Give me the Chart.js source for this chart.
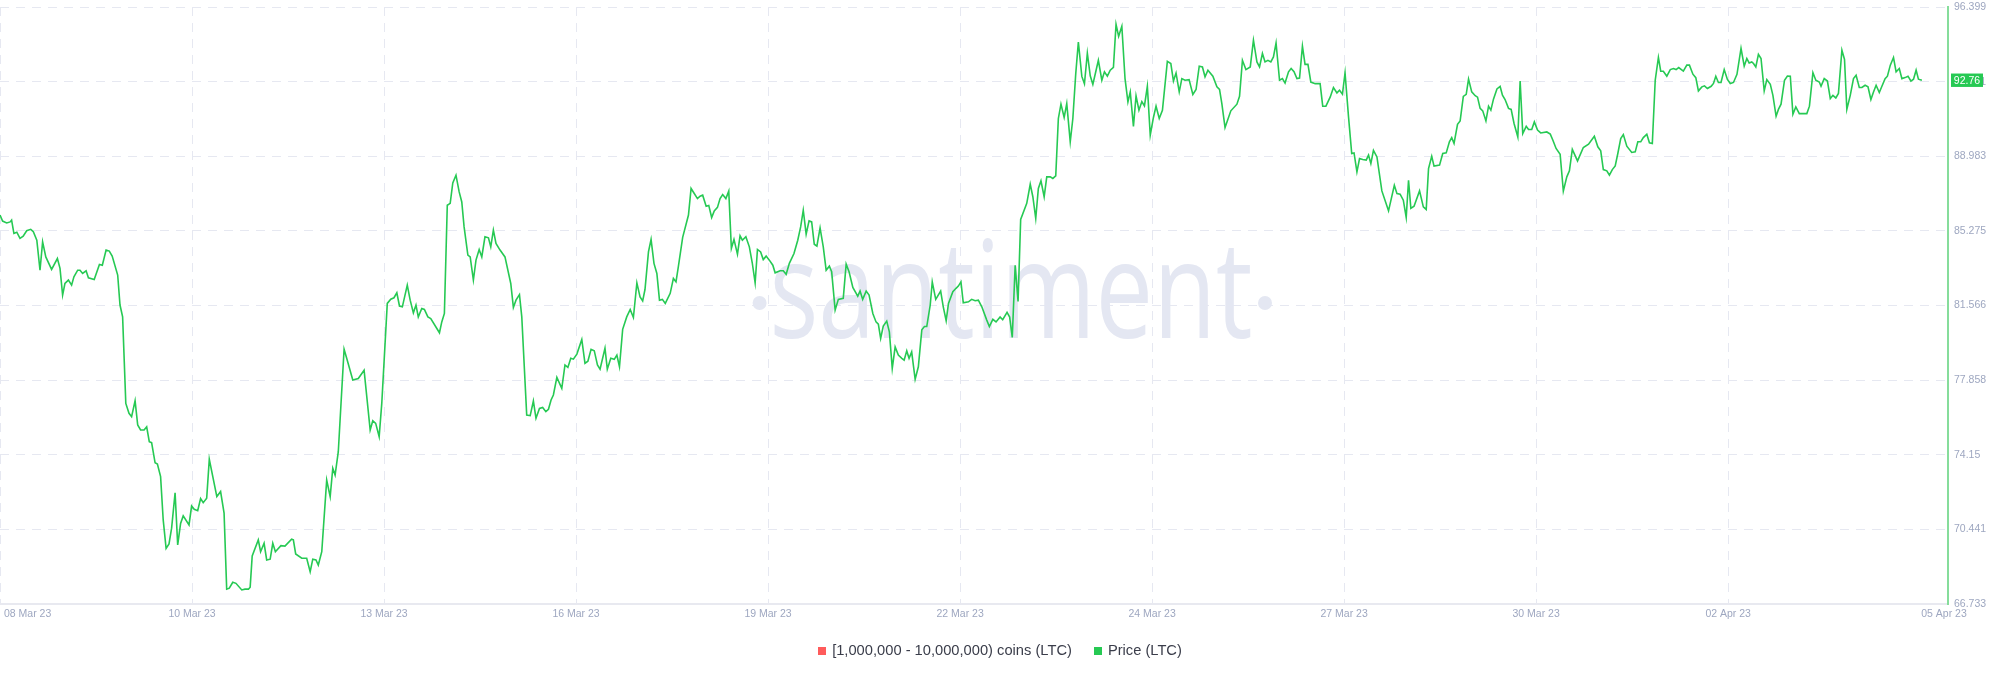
<!DOCTYPE html>
<html>
<head>
<meta charset="utf-8">
<title>LTC price</title>
<script src="https://cdn.jsdelivr.net/npm/chart.js@4.4.0/dist/chart.umd.min.js"></script>
<style>
  html, body { margin: 0; padding: 0; background: #fff; }
  #wrap { position: relative; width: 2000px; height: 677px; }
  #legend {
    position: absolute; left: 0; top: 642px; width: 2000px;
    display: flex; justify-content: center; gap: 22px;
    font: 14.7px "Liberation Sans", Arial, sans-serif; line-height: 17px; color: #3a3d4a;
  }
  .item { display: flex; align-items: center; }
  .box { width: 8px; height: 8px; margin-right: 6px; }
</style>
</head>
<body>
<div id="wrap">
  <canvas id="myChart"></canvas>
  <div id="legend"></div>
</div>
<script>
// Series names (the first one has no points in this view)
const seriesNames = ["[1,000,000 - 10,000,000) coins (LTC)", "Price (LTC)"];
const seriesColors = ["#ff5b5b", "#26c953"];

// X axis ticks, in hours from the start of the range
const xTickHours = [0, 66.24, 132.48, 198.72, 264.96, 331.2, 397.44, 463.68, 529.92, 596.16, 672];
const xTickLabels = ["08 Mar 23", "10 Mar 23", "13 Mar 23", "16 Mar 23", "19 Mar 23", "22 Mar 23",
  "24 Mar 23", "27 Mar 23", "30 Mar 23", "02 Apr 23", "05 Apr 23"];

// Y axis ticks (price)
const yTicks = [66.733, 70.441, 74.15, 77.858, 81.566, 85.275, 88.983, 92.691, 96.399];

// Price (LTC): hours from start
const hours = [
  0, 0.9, 2.3, 3.5, 4.0, 4.8, 5.8, 6.9, 8.0, 9.2,
  10.6, 11.5, 12.7, 13.8, 14.7, 15.8, 17.8, 19.8, 20.7, 21.6,
  22.4, 23.6, 24.7, 25.5, 26.8, 27.6, 28.5, 29.7, 30.5, 32.5,
  34.3, 35.3, 36.6, 37.7, 38.7, 40.6, 41.4, 42.3, 43.4, 44.5,
  45.4, 46.6, 47.5, 48.5, 49.7, 50.6, 51.5, 52.3, 53.5, 54.3,
  55.4, 56.3, 57.3, 58.3, 59.2, 60.4, 61.3, 62.3, 63.2, 65.2,
  66.1, 67.0, 68.2, 69.2, 70.1, 71.3, 72.2, 74.8, 76.1, 77.3,
  78.2, 79.1, 80.3, 81.4, 83.4, 84.5, 85.7, 86.3, 87.0, 89.1,
  89.9, 91.1, 92.0, 93.2, 94.1, 95.0, 96.9, 98.3, 100.6, 101.2,
  102.0, 104.1, 105.8, 107.0, 107.9, 109.0, 109.8, 111.0, 112.7, 113.9,
  114.8, 115.6, 116.7, 118.7, 119.6, 121.7, 123.6, 125.6, 127.7, 128.6,
  129.6, 130.8, 131.7, 133.6, 134.8, 135.9, 136.9, 137.8, 138.8, 140.5,
  141.5, 142.6, 143.5, 144.3, 145.5, 146.4, 147.6, 148.6, 151.6, 152.4,
  153.3, 154.3, 155.3, 156.2, 157.3, 158.4, 159.3, 160.1, 161.4, 162.2,
  163.3, 164.2, 165.3, 166.2, 167.3, 168.5, 169.3, 170.2, 171.1, 172.5,
  174.2, 176.2, 177.1, 178.0, 179.2, 180.0, 181.7, 182.9, 184.0, 184.9,
  186.1, 187.2, 188.3, 189.2, 190.1, 190.9, 192.1, 193.8, 194.9, 195.9,
  196.9, 197.8, 199.0, 200.7, 201.8, 202.8, 203.9, 205.0, 206.1, 207.0,
  208.7, 209.5, 210.7, 211.9, 212.8, 213.7, 214.8, 216.2, 217.4, 218.5,
  219.7, 220.8, 221.7, 222.5, 223.7, 224.6, 225.6, 226.6, 227.5, 228.5,
  229.5, 231.2, 232.3, 233.2, 234.0, 235.5, 237.5, 238.4, 239.5, 240.6,
  241.5, 242.4, 243.6, 244.5, 245.5, 246.4, 247.5, 248.4, 249.3, 250.4,
  251.4, 252.3, 253.2, 254.4, 255.3, 256.1, 257.3, 258.5, 259.5, 260.5,
  261.3, 262.4, 263.3, 264.3, 265.4, 266.6, 267.4, 269.1, 270.2, 271.2,
  272.3, 273.9, 275.2, 276.2, 277.1, 278.1, 279.1, 280.0, 280.9, 281.8,
  282.9, 284.0, 285.0, 286.1, 286.9, 288.1, 289.2, 290.9, 291.9, 292.9,
  294.2, 295.9, 296.7, 297.6, 298.8, 299.8, 301.1, 302.2, 303.0, 303.8,
  304.7, 305.9, 306.8, 307.8, 308.8, 309.9, 311.1, 311.9, 312.8, 313.6,
  314.5, 315.7, 316.8, 318.0, 318.9, 319.7, 320.9, 321.6, 322.8, 324.5,
  325.4, 326.4, 327.2, 328.7, 329.8, 330.6, 331.5, 332.3, 334.1, 335.2,
  336.4, 337.5, 338.7, 340.4, 341.3, 342.5, 343.6, 345.0, 345.9, 347.4,
  348.3, 349.2, 350.2, 351.2, 352.1, 354.2, 355.4, 356.3, 357.3, 358.2, 359.1, 360.2, 361.1,
  362.3, 363.2, 364.2, 365.1, 366.0, 367.1, 368.0, 369.2, 370.1, 371.1,
  372.0, 373.2, 374.1, 375.1, 376.1, 377.0, 378.0, 378.9, 380.1, 381.0,
  382.0, 383.0, 384.1, 385.0, 385.9, 387.0, 388.1, 389.1, 389.9, 391.0,
  391.9, 392.9, 393.9, 394.8, 395.8, 396.8, 397.9, 398.8, 399.9, 401.0,
  402.7, 403.9, 404.8, 405.7, 406.8, 407.7, 408.8, 410.2, 411.5, 412.6,
  413.7, 414.8, 415.7, 416.7, 418.4, 419.8, 420.7, 421.5, 422.6, 424.6,
  426.7, 427.6, 428.6, 429.8, 431.3, 432.4, 433.6, 434.5, 435.5, 436.4,
  437.4, 438.4, 439.3, 440.2, 441.4, 442.4, 443.3, 444.5, 445.4, 446.4,
  447.4, 448.3, 449.3, 450.2, 451.2, 452.2, 453.7, 455.4, 456.3, 457.4,
  458.9, 460.0, 461.2, 462.1, 463.1, 464.0, 465.2, 466.3, 467.1, 468.1,
  469.0, 470.1, 471.3, 472.1, 472.9, 473.8, 475.0, 476.7, 479.0, 481.0,
  481.9, 483.0, 484.1, 485.1, 485.9, 486.7, 487.8, 489.7, 491.0, 492.0,
  492.8, 493.9, 494.7, 496.6, 497.7, 498.9, 500.0, 500.8, 501.6, 502.8,
  503.7, 504.8, 505.8, 506.6, 507.7, 508.9, 509.7, 510.6, 511.5, 512.6,
  513.5, 514.3, 515.2, 516.4, 517.5, 518.3, 519.2, 520.4, 521.3, 522.3,
  523.6, 524.4, 525.3, 526.5, 527.3, 528.4, 529.3, 530.4, 531.5, 533.6,
  534.8, 535.7, 536.8, 538.2, 539.3, 540.5, 541.4, 542.4, 544.2, 546.2,
  548.0, 550.0, 551.2, 552.2, 553.1, 554.3, 555.2, 556.2, 557.2, 558.1,
  559.1, 560.0, 561.2, 562.9, 564.1, 565.0, 566.0, 566.9, 568.1, 569.0,
  570.0, 571.0, 572.1, 572.9, 573.8, 575.0, 576.2, 577.3, 578.2, 579.1,
  580.7, 581.9, 582.8, 584.0, 585.0, 585.9, 587.1, 588.0, 589.0, 590.3,
  591.1, 591.9, 592.8, 593.7, 594.8, 595.9, 596.9, 598.0, 599.2, 600.6,
  601.7, 602.6, 603.4, 604.3, 604.9, 605.7, 606.6, 607.5, 608.6, 609.5,
  610.7, 611.6, 612.7, 613.5, 614.4, 615.6, 616.6, 617.6, 618.5, 619.5,
  620.7, 623.3, 624.2, 625.4, 626.4, 627.6, 628.2, 629.3, 630.4, 631.4,
  632.3, 633.3, 634.2, 635.4, 636.3, 637.1, 638.3, 639.4, 640.3, 641.4,
  642.3, 643.4, 644.4, 645.4, 646.3, 647.2, 648.3, 649.2, 650.3, 651.1,
  652.1, 653.2, 654.1, 655.2, 656.1, 657.2, 658.2, 659.2, 660.1, 661.0,
  661.8, 663.0
];

// Price (LTC): values
const prices = [
  86.06, 85.76, 85.67, 85.72, 85.81, 85.15, 85.21, 84.90, 85.01, 85.28,
  85.35, 85.23, 84.81, 83.32, 84.73, 83.98, 83.36, 83.90, 83.41, 82.08,
  82.66, 82.83, 82.58, 82.99, 83.32, 83.32, 83.16, 83.29, 82.94, 82.86,
  83.61, 83.57, 84.32, 84.27, 84.02, 83.08, 81.59, 81.00, 76.70, 76.21,
  76.04, 76.83, 75.63, 75.38, 75.38, 75.54, 74.80, 74.75, 73.75, 73.69,
  73.06, 70.91, 69.50, 69.72, 70.50, 72.26, 69.67, 70.74, 71.11, 70.66,
  71.60, 71.44, 71.37, 71.97, 71.77, 71.99, 73.92, 72.07, 72.32, 71.25,
  67.47, 67.52, 67.81, 67.76, 67.43, 67.47, 67.47, 67.57, 69.12, 69.92,
  69.33, 69.75, 68.92, 68.96, 69.75, 69.33, 69.63, 69.61, 69.95, 69.92,
  69.22, 69.01, 69.01, 68.34, 68.96, 68.92, 68.67, 69.33, 72.89, 72.07,
  73.48, 73.14, 74.30, 79.39, 78.94, 77.86, 77.94, 78.35, 75.38, 75.84,
  75.71, 75.05, 76.70, 81.67, 81.88, 81.95, 82.20, 81.54, 81.50, 82.58,
  81.83, 81.20, 81.59, 81.00, 81.42, 81.37, 81.00, 80.92, 80.21, 80.75,
  81.17, 86.55, 86.64, 87.66, 88.04, 87.21, 86.71, 85.47, 84.07, 83.98,
  82.83, 83.82, 84.35, 83.98, 84.98, 84.93, 84.48, 85.31, 84.65, 84.32,
  83.98, 82.66, 81.47, 81.83, 82.11, 81.00, 76.12, 76.09, 76.82, 75.96,
  76.45, 76.50, 76.29, 76.41, 76.87, 77.12, 77.99, 77.45, 78.61, 78.49,
  78.94, 78.90, 79.15, 79.88, 78.69, 78.80, 79.39, 79.32, 78.61, 78.40,
  79.44, 78.40, 78.94, 78.89, 79.10, 78.52, 80.38, 81.00, 81.37, 80.97,
  82.69, 81.99, 81.79, 82.36, 84.23, 84.85, 83.66, 83.16, 81.83, 81.87,
  81.67, 82.17, 82.91, 82.74, 83.49, 84.95, 86.06, 87.38, 87.13, 86.88,
  87.00, 87.05, 86.50, 86.54, 85.94, 86.27, 86.44, 86.88, 87.08, 86.88,
  87.25, 84.40, 84.85, 84.12, 85.03, 84.81, 84.98, 84.48, 83.69, 82.69,
  84.35, 84.23, 83.85, 84.02, 83.82, 83.57, 83.19, 83.29, 83.29, 83.12,
  83.66, 84.15, 84.81, 85.47, 86.30, 85.11, 85.77, 85.72, 84.61, 84.52,
  85.42, 84.48, 83.32, 83.52, 83.24, 81.34, 81.87, 81.92, 83.62, 83.24,
  82.46, 82.03, 82.29, 81.87, 82.28, 82.08, 81.17, 80.75, 80.64, 79.93,
  80.54, 80.79, 80.26, 78.44, 79.51, 79.10, 78.94, 78.85, 79.31, 78.94,
  79.26, 77.90, 78.52, 80.36, 80.52, 80.52, 81.59, 82.74, 81.87, 82.28,
  81.50, 80.81, 81.67, 82.25, 82.42, 82.53, 82.74, 81.70, 81.75, 81.87,
  81.80, 81.83, 81.50, 80.84, 80.52, 80.88, 80.75, 81.00, 80.86, 81.22,
  80.99, 79.98, 83.56, 81.77, 85.84, 86.64, 87.59, 86.97, 85.89, 87.38, 87.76, 86.97, 87.96,
  87.96, 87.88, 88.01, 90.86, 91.57, 90.91, 91.60, 89.70, 90.86, 93.09,
  94.66, 92.95, 92.58, 94.10, 92.98, 92.55, 93.18, 93.75, 92.76, 93.18,
  92.96, 93.26, 93.40, 95.54, 94.94, 95.44, 92.84, 91.68, 92.18, 90.47,
  91.98, 91.27, 91.70, 91.48, 92.46, 90.03, 90.91, 91.47, 90.86, 91.27,
  93.70, 93.59, 92.72, 93.12, 92.18, 92.84, 92.76, 92.79, 92.05, 92.30,
  93.46, 93.42, 92.93, 93.26, 92.96, 92.43, 92.30, 91.60, 90.41, 91.24,
  91.57, 91.96, 93.75, 93.29, 93.42, 94.75, 93.67, 93.42, 94.09, 93.67,
  93.75, 93.67, 93.92, 94.61, 92.76, 92.84, 92.62, 93.18, 93.34, 93.18,
  92.84, 92.87, 94.45, 93.55, 93.55, 92.67, 92.59, 92.59, 91.47, 91.47,
  91.93, 92.40, 92.13, 92.26, 92.07, 93.12, 90.94, 89.12, 89.15, 88.21,
  88.87, 88.82, 88.79, 89.04, 88.62, 89.28, 88.95, 87.26, 86.27, 87.54,
  87.13, 87.10, 86.80, 85.94, 87.79, 86.39, 86.50, 87.26, 86.47, 86.34,
  88.37, 88.98, 88.49, 88.54, 89.12, 89.15, 89.70, 89.91, 89.62, 90.57,
  90.74, 91.96, 92.06, 92.82, 92.18, 91.99, 91.92, 91.36, 91.24, 90.74,
  91.47, 91.27, 91.82, 92.33, 92.45, 92.02, 91.80, 91.36, 91.31, 90.61,
  89.94, 92.72, 90.11, 90.47, 90.31, 90.31, 90.69, 90.28, 90.14, 90.19,
  90.08, 89.78, 89.37, 89.08, 87.25, 87.96, 88.26, 89.32, 88.75, 89.42,
  89.58, 89.98, 89.45, 89.25, 88.32, 88.26, 88.04, 88.32, 88.50, 89.12,
  89.86, 90.06, 89.48, 89.17, 89.20, 89.70, 89.70, 89.91, 90.08, 89.65,
  89.62, 92.76, 93.89, 93.21, 93.21, 92.96, 93.29, 93.34, 93.29, 93.39,
  93.21, 93.51, 93.51, 93.06, 92.89, 92.23, 92.43, 92.48, 92.35, 92.46,
  92.60, 92.96, 92.65, 92.65, 93.29, 92.80, 92.60, 92.65, 93.05, 94.34,
  93.46, 93.84, 93.62, 93.67, 93.59, 93.42, 94.05, 93.84, 92.23, 92.79,
  92.56, 92.01, 90.97, 91.31, 91.57, 92.76, 92.97, 92.96, 91.07, 91.43,
  91.10, 91.10, 91.47, 93.14, 92.76, 92.67, 92.46, 92.84, 92.72, 91.85,
  92.01, 91.88, 92.10, 94.25, 93.79, 91.31, 92.02, 92.84, 93.01, 92.40,
  92.40, 92.51, 92.43, 91.80, 92.18, 92.51, 92.15, 92.46, 92.84, 92.96,
  93.51, 93.89, 93.18, 93.34, 92.84, 92.89, 92.96, 92.72, 92.81, 93.26,
  92.81, 92.76
];

const tickColor = "#9ea7c0";
const gridColor = "#e6e8f1";
const labelFont = '"Liberation Sans", Arial, sans-serif';

Chart.defaults.font.family = labelFont;

// Faded brand mark behind the line
const watermark = {
  id: "watermark",
  beforeDatasetsDraw(chart) {
    const ctx = chart.ctx;
    ctx.save();
    ctx.fillStyle = "#e4e7f2";
    ctx.font = '135px "Open Sans"';
    const m = ctx.measureText("santiment");
    const ink = m.actualBoundingBoxLeft + m.actualBoundingBoxRight;
    const k = 477 / ink;
    ctx.translate(774, 337.5);
    ctx.scale(k, 1);
    ctx.textBaseline = "alphabetic";
    ctx.fillText("santiment", m.actualBoundingBoxLeft, 0);
    ctx.restore();

    ctx.save();
    ctx.fillStyle = "#e4e7f2";
    [759.6, 1265].forEach((cx) => {
      ctx.beginPath();
      ctx.arc(cx, 303, 7, 0, Math.PI * 2);
      ctx.fill();
    });
    ctx.restore();
  },
};

// Date labels under the x axis (first one kept inside the canvas)
const xLabels = {
  id: "xLabels",
  afterDraw(chart) {
    const { ctx, scales, chartArea } = chart;
    ctx.save();
    ctx.font = "10.5px " + labelFont;
    ctx.fillStyle = tickColor;
    ctx.textBaseline = "middle";
    xTickHours.forEach((h, i) => {
      let px = scales.x.getPixelForValue(h);
      if (i === 0) {
        ctx.textAlign = "left";
        px += 4;
      } else if (i === xTickHours.length - 1) {
        ctx.textAlign = "center";
        px -= 4;
      } else {
        ctx.textAlign = "center";
      }
      ctx.fillText(xTickLabels[i], px, chartArea.bottom + 10);
    });
    ctx.restore();
  },
};

// Badge with the latest price on the right axis
const lastBadge = {
  id: "lastBadge",
  afterDraw(chart) {
    const { ctx, chartArea, scales } = chart;
    const v = prices[prices.length - 1];
    const y = scales.y.getPixelForValue(v);
    ctx.save();
    ctx.fillStyle = seriesColors[1];
    ctx.fillRect(chartArea.right + 3, y - 6.7, 32, 13.4);
    ctx.fillStyle = "#ffffff";
    ctx.font = "10.5px " + labelFont;
    ctx.textAlign = "center";
    ctx.textBaseline = "middle";
    ctx.fillText(v.toFixed(2), chartArea.right + 19, y + 0.5);
    ctx.restore();
  },
};

const priceData = hours.map((h, i) => ({ x: h, y: prices[i] }));
const xMax = xTickHours[xTickHours.length - 1];

const ctx = document.getElementById("myChart").getContext("2d");
const myChart = new Chart(ctx, {
  type: "line",
  data: {
    datasets: [
      {
        label: seriesNames[0],
        data: [],
        borderColor: seriesColors[0],
        backgroundColor: seriesColors[0],
      },
      {
        label: seriesNames[1],
        data: priceData,
        borderColor: seriesColors[1],
        backgroundColor: seriesColors[1],
        borderWidth: 1.6,
        pointRadius: 0,
        tension: 0,
        fill: false,
      },
    ],
  },
  options: {
    responsive: true,
    maintainAspectRatio: false,
    animation: false,
    events: [],
    layout: { padding: { top: 7, left: 0, right: 0, bottom: 0 } },
    plugins: {
      legend: { display: false },
      tooltip: { enabled: false },
    },
    scales: {
      x: {
        type: "linear",
        min: 0,
        max: xMax,
        afterBuildTicks: (scale) => {
          scale.ticks = xTickHours.map((v) => ({ value: v }));
        },
        afterFit: (scale) => {
          scale.height = 73;
          scale.paddingLeft = 0;
          scale.paddingRight = 0;
        },
        ticks: { display: false },
        grid: {
          drawTicks: false,
          lineWidth: 1,
          color: (c) => (c.tick && c.tick.value === xMax ? "rgba(0,0,0,0)" : gridColor),
        },
        border: { display: true, color: "#e8e9f0", width: 2, dash: [9, 7] },
      },
      y: {
        position: "right",
        min: yTicks[0],
        max: yTicks[yTicks.length - 1],
        afterBuildTicks: (scale) => {
          scale.ticks = yTicks.map((v) => ({ value: v }));
        },
        afterFit: (scale) => {
          scale.width = 52;
          // the top label may overhang the plot, like the original
          scale.paddingTop = 0;
          scale.paddingBottom = 0;
        },
        ticks: {
          padding: 6,
          color: tickColor,
          font: { size: 10.5 },
          callback: (v) => String(v),
        },
        grid: { drawTicks: false, lineWidth: 1, color: gridColor },
        border: { display: true, color: "#86dd9b", width: 2, dash: [9, 7] },
      },
    },
  },
  plugins: [watermark, xLabels, lastBadge],
});

// Legend below the chart
const legendEl = document.getElementById("legend");
myChart.data.datasets.forEach((ds) => {
  const item = document.createElement("span");
  item.className = "item";
  const box = document.createElement("span");
  box.className = "box";
  box.style.background = ds.borderColor;
  const text = document.createElement("span");
  text.textContent = ds.label;
  item.appendChild(box);
  item.appendChild(text);
  legendEl.appendChild(item);
});
</script>
</body>
</html>
